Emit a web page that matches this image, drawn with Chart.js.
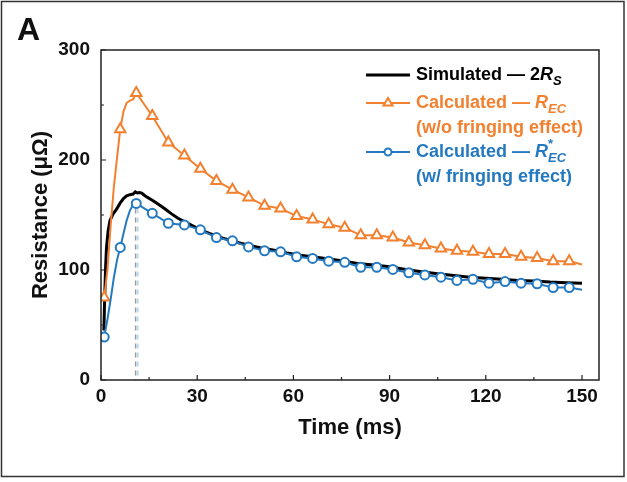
<!DOCTYPE html>
<html>
<head>
<meta charset="utf-8">
<script src="https://cdn.jsdelivr.net/npm/chart.js@4.4.1/dist/chart.umd.min.js"></script>
<style>
  body { margin: 0; background: #fff; }
  #wrap { width: 627px; height: 482px; position: relative; }
</style>
</head>
<body>
<div id="wrap"><canvas id="chart" width="627" height="482"></canvas></div>
<script>
// resistance vs time - simulated and calculated curves

const xTicks = [0, 30, 60, 90, 120, 150];
const yTicks = [0, 100, 200, 300];

// times (ms) where the calculated curves carry a marker
const markerTimes = [1, 6, 11, 16, 21, 26, 31, 36, 41, 46, 51, 56, 61, 66, 71, 76, 81, 86, 91, 96, 101, 106, 111, 116, 121, 126, 131, 136, 141, 146];

// Simulated - 2Rs (black)
const simTime = [0.9, 1.1, 1.4, 1.7, 2.2, 2.8, 3.8, 4.8, 6, 7, 8, 9, 10, 10.7, 11.3, 12, 12.7, 13.5, 14.5, 16, 18, 20, 22, 24, 26, 28, 31, 34, 38, 42, 46, 50, 54, 58, 62, 66, 70, 75, 80, 85, 90, 95, 100, 105, 110, 115, 120, 125, 130, 135, 140, 145, 150];
const simValue = [45, 70, 100, 120, 135, 145, 151, 155, 161, 165, 167.5, 168.5, 169, 171, 170, 170.5, 170, 168, 166, 163.5, 159.5, 155.5, 151, 147, 144, 141, 136.5, 133, 129, 125.5, 122.5, 120, 118, 115.5, 113.5, 112, 110.5, 108.5, 106, 104.5, 103, 100.5, 98.5, 96.5, 95, 93.5, 92.5, 91.5, 90.5, 90, 89, 88.5, 88];

// Calculated - REC, w/o fringing (orange)
const calcTime = [1, 2, 3, 4, 5, 6, 7, 8, 9, 10, 11, 16, 21, 26, 31, 36, 41, 46, 51, 56, 61, 66, 71, 76, 81, 86, 91, 96, 101, 106, 111, 116, 121, 126, 131, 136, 141, 146, 150];
const recValue = [75, 100, 140, 175, 202, 228, 244, 252, 254, 255, 261, 240, 216, 204, 192, 181, 173, 166, 158.5, 156, 149, 146, 141.5, 138.5, 131.5, 131.5, 129.5, 125, 122.5, 119.5, 117.5, 116.5, 114.5, 114.5, 112, 111, 108, 108, 105];

// Calculated - R*EC, w/ fringing (blue)
const recStarValue = [39, 55, 73, 93, 109, 120.5, 133, 145, 154, 159, 160.5, 151.5, 142.5, 141, 136.5, 129.5, 126.5, 121, 117.5, 116.5, 112, 110.5, 108, 107, 102.5, 102.5, 100.5, 97.5, 95.5, 93.5, 90.5, 91.5, 88, 89.5, 88, 87.5, 84, 84, 82];

// dashed guides at the peak
const guideTime = [10.8, 11.5];
const guideTop = 156;

const ORANGE = "#F2802F";
const BLUE = "#2479C0";
const FONT = "'Liberation Sans', Arial, sans-serif";

const pts = (xs, ys) => xs.map((x, i) => ({ x, y: ys[i] }));
const markerRadius = r => ctx => (ctx.raw && markerTimes.includes(ctx.raw.x)) ? r : 0;

// ticks inside the frame + box + legend + panel letter
const decorPlugin = {
  id: "decor",
  afterDraw(chart) {
    const { ctx, chartArea: a, scales: { x, y } } = chart;
    ctx.save();
    ctx.strokeStyle = "#222";
    ctx.lineWidth = 1.5;
    ctx.strokeRect(a.left, a.top, a.right - a.left, a.bottom - a.top);

    ctx.lineWidth = 1.2;
    ctx.beginPath();
    for (let v = 0; v <= 150; v += 15) {
      const px = x.getPixelForValue(v);
      const len = v % 30 === 0 ? 5 : 3;
      ctx.moveTo(px, a.bottom);
      ctx.lineTo(px, a.bottom - len);
    }
    for (let v = 0; v <= 300; v += 50) {
      const py = y.getPixelForValue(v);
      const len = v % 100 === 0 ? 5 : 3;
      ctx.moveTo(a.left, py);
      ctx.lineTo(a.left + len, py);
    }
    ctx.stroke();

    // outer frame
    ctx.strokeStyle = "#333";
    ctx.lineWidth = 1.5;
    ctx.strokeRect(1.5, 1.5, 622.5, 475);

    // panel letter
    ctx.fillStyle = "#111";
    ctx.font = "bold 32px " + FONT;
    ctx.textBaseline = "alphabetic";
    ctx.fillText("A", 17, 40);

    drawLegend(ctx);
    ctx.restore();
  }
};

function drawRich(ctx, x, y, parts, color) {
  ctx.fillStyle = color;
  ctx.textBaseline = "middle";
  let cx = x;
  parts.forEach(p => {
    const size = p.sub || p.sup ? 13 : 18;
    ctx.font = (p.i ? "italic " : "") + "bold " + size + "px " + FONT;
    const dy = p.sub ? 6 : (p.sup ? -8 : 0);
    ctx.fillText(p.t, cx, y + dy);
    if (!p.sup) cx += ctx.measureText(p.t).width;
  });
}

function drawLegend(ctx) {
  const lx0 = 366, lx1 = 410, tx = 416;
  // row 1 - simulated
  ctx.strokeStyle = "#000";
  ctx.lineWidth = 3;
  ctx.beginPath(); ctx.moveTo(lx0, 75); ctx.lineTo(lx1, 75); ctx.stroke();
  drawRich(ctx, tx, 75, [{ t: "Simulated — 2" }, { t: "R", i: true }, { t: "S", i: true, sub: true }], "#000");

  // row 2 - REC
  ctx.strokeStyle = ORANGE;
  ctx.lineWidth = 2;
  ctx.beginPath(); ctx.moveTo(lx0, 103); ctx.lineTo(lx1, 103); ctx.stroke();
  ctx.fillStyle = "#fff";
  ctx.beginPath();
  ctx.moveTo(388, 98); ctx.lineTo(392.5, 105.5); ctx.lineTo(383.5, 105.5); ctx.closePath();
  ctx.fill(); ctx.stroke();
  drawRich(ctx, tx, 103, [{ t: "Calculated — " }, { t: "R", i: true }, { t: "EC", i: true, sub: true }], ORANGE);
  drawRich(ctx, tx, 128, [{ t: "(w/o fringing effect)" }], ORANGE);

  // row 3 - R*EC
  ctx.strokeStyle = BLUE;
  ctx.lineWidth = 2;
  ctx.beginPath(); ctx.moveTo(lx0, 152); ctx.lineTo(lx1, 152); ctx.stroke();
  ctx.fillStyle = "#fff";
  ctx.beginPath(); ctx.arc(388, 152, 3.5, 0, Math.PI * 2); ctx.fill(); ctx.stroke();
  drawRich(ctx, tx, 152, [{ t: "Calculated — " }, { t: "R", i: true }, { t: "*", sup: true }, { t: "EC", i: true, sub: true }], BLUE);
  drawRich(ctx, tx, 177, [{ t: "(w/ fringing effect)" }], BLUE);
}

new Chart(document.getElementById("chart"), {
  type: "line",
  data: {
    datasets: [
      {
        label: "Calculated — R*EC",
        data: pts(calcTime, recStarValue),
        borderColor: BLUE,
        borderWidth: 2,
        pointStyle: "circle",
        pointRadius: markerRadius(4.5),
        pointBorderWidth: 2,
        pointBorderColor: BLUE,
        pointBackgroundColor: "#fff",
        tension: 0
      },
      {
        label: "Calculated — REC",
        data: pts(calcTime, recValue),
        borderColor: ORANGE,
        borderWidth: 2,
        pointStyle: "triangle",
        pointRadius: markerRadius(6),
        pointBorderWidth: 2,
        pointBorderColor: ORANGE,
        pointBackgroundColor: "#fff",
        tension: 0
      },
      {
        label: "Simulated — 2Rs",
        data: pts(simTime, simValue),
        borderColor: "#000",
        borderWidth: 3,
        pointRadius: 0,
        tension: 0
      },
      {
        label: "guide gray",
        data: [{ x: guideTime[0], y: guideTop }, { x: guideTime[0], y: 0 }],
        borderColor: "#9a9a9a",
        borderWidth: 1.5,
        borderDash: [5, 4],
        pointRadius: 0
      },
      {
        label: "guide blue",
        data: [{ x: guideTime[1], y: guideTop }, { x: guideTime[1], y: 0 }],
        borderColor: "#b5d8f2",
        borderWidth: 1.5,
        borderDash: [5, 4],
        pointRadius: 0
      }
    ]
  },
  options: {
    responsive: false,
    animation: false,
    layout: { padding: { left: 0, top: 50, right: 28, bottom: 0 } },
    plugins: { legend: { display: false }, tooltip: { enabled: false } },
    scales: {
      x: {
        type: "linear",
        min: 0,
        max: 155.3,
        afterBuildTicks: s => { s.ticks = xTicks.map(v => ({ value: v })); },
        afterFit: s => { s.height = 102; },
        grid: { display: false, drawTicks: false },
        border: { display: false },
        ticks: { padding: 5, color: "#111", font: { family: FONT, size: 19, weight: "bold" } },
        title: { display: true, text: "Time (ms)", color: "#111", padding: { top: 0, bottom: 41 }, font: { family: FONT, size: 22, weight: "bold" } }
      },
      y: {
        min: 0,
        max: 300,
        afterBuildTicks: s => { s.ticks = yTicks.map(v => ({ value: v })); },
        afterFit: s => { s.width = 101; },
        grid: { display: false, drawTicks: false },
        border: { display: false },
        ticks: { padding: 11, color: "#111", font: { family: FONT, size: 19, weight: "bold" } },
        title: { display: true, text: "Resistance (μΩ)", color: "#111", padding: { top: 28, bottom: 0 }, font: { family: FONT, size: 22, weight: "bold" } }
      }
    }
  },
  plugins: [decorPlugin]
});
</script>
</body>
</html>
